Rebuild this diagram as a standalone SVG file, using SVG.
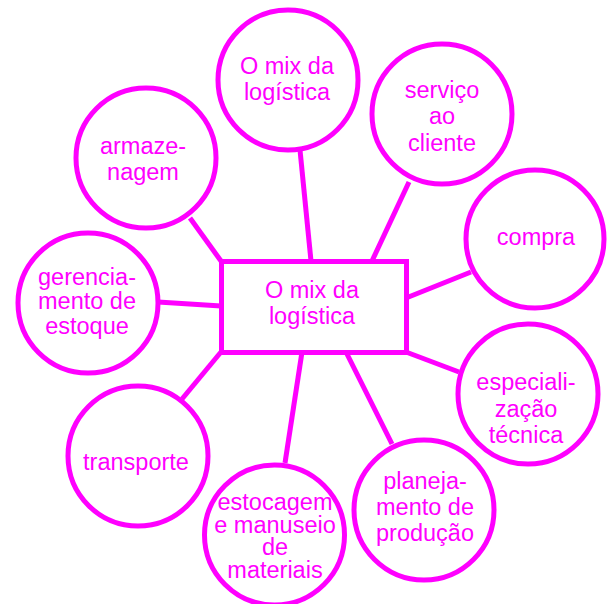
<svg xmlns="http://www.w3.org/2000/svg" width="609" height="604" viewBox="0 0 609 604">
<style>
.n{fill:#fff;stroke:#ff00ff;stroke-width:5}
.c line{stroke:#ff00ff;stroke-width:5}
text{font-family:"Liberation Sans",Arial,sans-serif;font-size:23.5px;fill:#ff00ff;text-anchor:middle}
</style>
<rect width="609" height="604" fill="#fff"/>
<g class="c" id="connectors">
<line x1="190" y1="218" x2="221" y2="261"/>
<line x1="300" y1="150" x2="311" y2="261"/>
<line x1="409" y1="182" x2="372" y2="261"/>
<line x1="471" y1="272" x2="406" y2="298"/>
<line x1="406" y1="352" x2="459" y2="372"/>
<line x1="346" y1="352" x2="392" y2="444"/>
<line x1="302" y1="352" x2="285" y2="463"/>
<line x1="221" y1="352" x2="182" y2="399"/>
<line x1="158" y1="302" x2="221" y2="306"/>
</g>
<g id="center">
<rect class="n" x="221.5" y="261.5" width="185" height="91"/>
<text x="312" y="298">O mix da</text>
<text x="312" y="324">logística</text>
</g>
<g id="top">
<circle class="n" cx="288" cy="80" r="70"/>
<text x="287" y="74">O mix da</text>
<text x="287" y="100">logística</text>
</g>
<g id="servico">
<circle class="n" cx="442" cy="114" r="70"/>
<text x="442" y="98">serviço</text>
<text x="442" y="124">ao</text>
<text x="442" y="151">cliente</text>
</g>
<g id="compra">
<circle class="n" cx="535" cy="239" r="69"/>
<text x="536" y="245">compra</text>
</g>
<g id="especializacao">
<circle class="n" cx="528" cy="394" r="70"/>
<text x="526" y="390">especiali-</text>
<text x="526" y="417">zação</text>
<text x="526" y="443">técnica</text>
</g>
<g id="planejamento">
<circle class="n" cx="424" cy="510" r="70"/>
<text x="425" y="489">planeja-</text>
<text x="425" y="515">mento de</text>
<text x="425" y="541">produção</text>
</g>
<g id="estocagem">
<circle class="n" cx="274.5" cy="535" r="70"/>
<text x="275" y="510">estocagem</text>
<text x="275" y="533">e manuseio</text>
<text x="275" y="555">de</text>
<text x="275" y="578">materiais</text>
</g>
<g id="transporte">
<circle class="n" cx="138" cy="456" r="70"/>
<text x="136" y="470">transporte</text>
</g>
<g id="gerenciamento">
<circle class="n" cx="88" cy="303" r="70"/>
<text x="87" y="285">gerencia-</text>
<text x="87" y="309">mento de</text>
<text x="87" y="334">estoque</text>
</g>
<g id="armazenagem">
<circle class="n" cx="146" cy="158" r="70"/>
<text x="143" y="154">armaze-</text>
<text x="143" y="180">nagem</text>
</g>
</svg>
